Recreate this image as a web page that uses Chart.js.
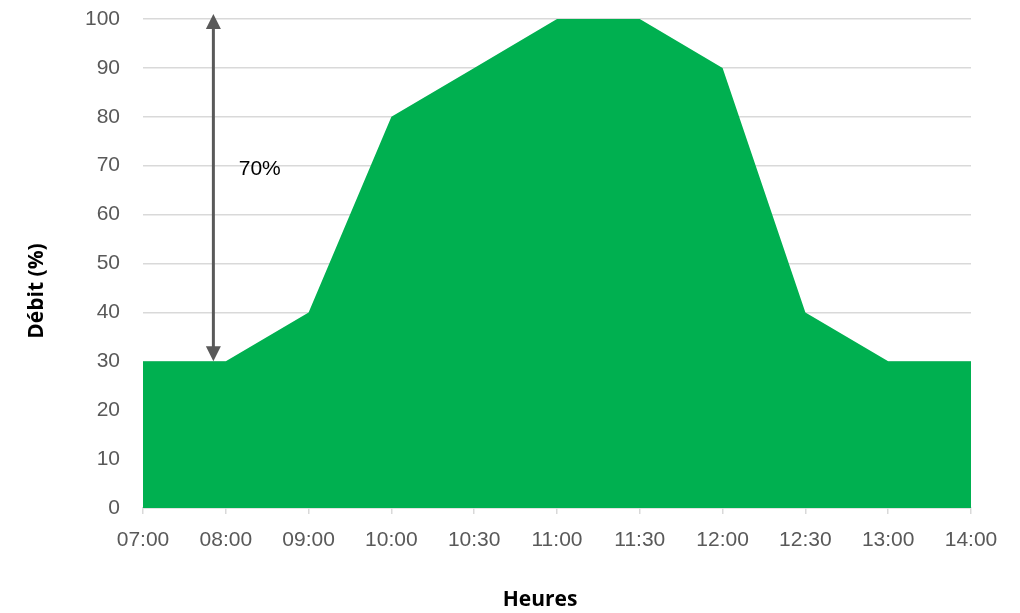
<!DOCTYPE html>
<html>
<head>
<meta charset="utf-8">
<style>
  html, body { margin: 0; padding: 0; background: #ffffff; }
  #wrap { width: 1020px; height: 613px; }
</style>
<script src="https://cdn.jsdelivr.net/npm/chart.js@4/dist/chart.umd.min.js"></script>
</head>
<body>
<div id="wrap"><canvas id="chart" width="1020" height="613"></canvas></div>
<script>
// Heures de la journée (axe horizontal)
const heures = ['07:00', '08:00', '09:00', '10:00', '10:30', '11:00', '11:30', '12:00', '12:30', '13:00', '14:00'];
// Débit en pourcentage du maximum
const debit = [30, 30, 40, 80, 90, 100, 100, 90, 40, 30, 30];
// Graduations de l'axe vertical
const yTicks = [0, 10, 20, 30, 40, 50, 60, 70, 80, 90, 100];

// Écart entre débit de base et débit de pointe, indiqué par la flèche
const debitBase = Math.min(...debit);
const debitPointe = Math.max(...debit);
const ecart = debitPointe - debitBase;

const TICK_FONT = { family: '"Liberation Sans", Arial, sans-serif', size: 21 };
const GRID = '#d9d9d9';
const TXT = '#595959';

const annotations = {
  id: 'annotations',
  afterDatasetsDraw(chart) {
    const { ctx, scales: { x, y } } = chart;
    ctx.save();

    // Flèche double entre le débit de base et le débit de pointe
    const ax = x.getPixelForValue(0.85);
    const yTop = y.getPixelForValue(debitPointe) - 5;
    const yBot = y.getPixelForValue(debitBase);
    const head = 15, half = 7.5;
    ctx.strokeStyle = TXT;
    ctx.fillStyle = TXT;
    ctx.lineWidth = 3;
    ctx.beginPath();
    ctx.moveTo(ax, yTop + head - 1);
    ctx.lineTo(ax, yBot - head + 1);
    ctx.stroke();
    ctx.beginPath();
    ctx.moveTo(ax, yTop);
    ctx.lineTo(ax - half, yTop + head);
    ctx.lineTo(ax + half, yTop + head);
    ctx.closePath();
    ctx.fill();
    ctx.beginPath();
    ctx.moveTo(ax, yBot);
    ctx.lineTo(ax - half, yBot - head);
    ctx.lineTo(ax + half, yBot - head);
    ctx.closePath();
    ctx.fill();

    // Libellé de l'écart
    ctx.fillStyle = '#000000';
    ctx.font = '21px "Liberation Sans", Arial, sans-serif';
    ctx.textAlign = 'center';
    ctx.textBaseline = 'middle';
    ctx.fillText(ecart + '%', x.getPixelForValue(1.41), y.getPixelForValue(ecart) + 4);

    // Titres des axes
    ctx.font = 'bold 21px "Open Sans", sans-serif';
    ctx.fillText('Heures', 540, 600);
    ctx.translate(37, 291);
    ctx.rotate(-Math.PI / 2);
    ctx.fillText('Débit (%)', 0, 0);
    ctx.restore();
  }
};

new Chart(document.getElementById('chart'), {
  type: 'line',
  data: {
    labels: heures,
    datasets: [{
      label: 'Débit (%)',
      data: debit,
      fill: 'origin',
      backgroundColor: '#00b050',
      borderWidth: 0,
      pointRadius: 0,
      tension: 0
    }]
  },
  options: {
    responsive: false,
    animation: false,
    devicePixelRatio: 1,
    layout: { padding: { left: 0, right: 49, top: 19, bottom: 0 } },
    plugins: {
      legend: { display: false },
      tooltip: { enabled: false }
    },
    scales: {
      x: {
        offset: false,
        grid: { display: true, drawOnChartArea: false, drawTicks: true, tickLength: 6, color: GRID, lineWidth: 1.5 },
        border: { display: true, color: GRID, width: 1.5 },
        ticks: { color: TXT, font: TICK_FONT, padding: 14, maxRotation: 0, autoSkip: false },
        afterFit(scale) {
          scale.height = 105;
          scale.paddingLeft = 0;
          scale.paddingRight = 0;
        }
      },
      y: {
        min: 0,
        max: 100,
        afterBuildTicks(scale) { scale.ticks = yTicks.map(v => ({ value: v })); },
        grid: { color: GRID, lineWidth: 1.5, drawTicks: false },
        border: { display: false },
        ticks: { color: TXT, font: TICK_FONT, padding: 23 },
        afterFit(scale) {
          scale.width = 143;
          scale.paddingTop = 0;
          scale.paddingBottom = 0;
        }
      }
    }
  },
  plugins: [annotations]
});
</script>
</body>
</html>
